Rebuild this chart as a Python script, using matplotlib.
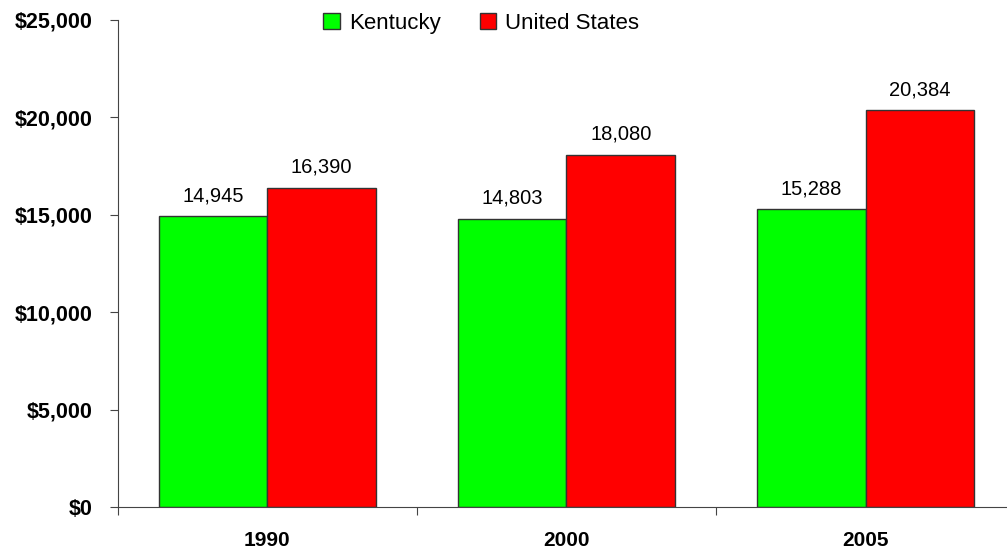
import matplotlib
matplotlib.use("Agg")
import matplotlib.pyplot as plt
import numpy as np

years = ['1990', '2000', '2005']
kentucky = [14945, 14803, 15288]
united_states = [16390, 18080, 20384]
y_ticks = [0, 5000, 10000, 15000, 20000, 25000]

plt.rcParams['font.family'] = ['Liberation Sans', 'DejaVu Sans']

fig = plt.figure(figsize=(10.07, 5.5), dpi=100)
ax = fig.add_axes([0.117, 0.078, 0.891, 0.886])

x = np.arange(len(years))
width = 0.363
bars_ky = ax.bar(x - width / 2, kentucky, width, color='#00FF00',
                 edgecolor='#333333', linewidth=1, label='Kentucky')
bars_us = ax.bar(x + width / 2, united_states, width, color='#FF0000',
                 edgecolor='#333333', linewidth=1, label='United States')

for bars, vals in ((bars_ky, kentucky), (bars_us, united_states)):
    for b, v in zip(bars, vals):
        ax.text(b.get_x() + b.get_width() / 2, v + 550, f'{v:,}',
                ha='center', va='bottom', fontsize=14.5)

ax.set_xlim(-0.5, 2.5)
ax.set_ylim(0, 25000)
ax.set_yticks(y_ticks)
ax.set_yticklabels([f'${v:,}' for v in y_ticks], fontsize=15.5, fontweight='bold')

# group separators as ticks, year names in the middle of each group
ax.set_xticks([-0.5, 0.5, 1.5, 2.5])
ax.set_xticklabels([])
ax.set_xticks(x, minor=True)
ax.set_xticklabels(years, minor=True, fontsize=15, fontweight='bold')
ax.tick_params(axis='x', which='minor', length=0, pad=17)
ax.tick_params(axis='x', which='major', length=6, direction='out', color='#444444')
ax.tick_params(axis='y', length=6, direction='out', color='#444444', pad=12)

for side in ('top', 'right'):
    ax.spines[side].set_visible(False)
for side in ('left', 'bottom'):
    ax.spines[side].set_color('#444444')

leg = ax.legend(loc='upper center', bbox_to_anchor=(0.405, 1.055), ncol=2,
                frameon=False, fontsize=16, handlelength=0.75, handleheight=0.75,
                columnspacing=1.75, handletextpad=0.4)

fig.savefig('out.png', dpi=100)
